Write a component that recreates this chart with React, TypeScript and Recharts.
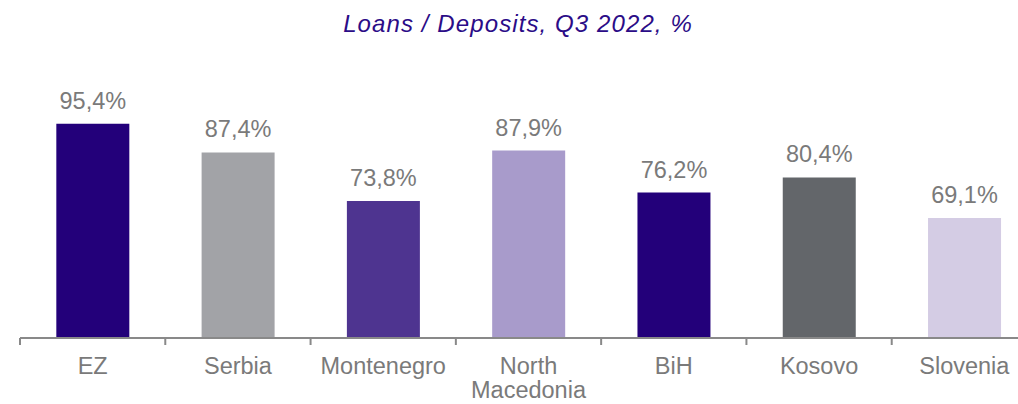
import { BarChart, Bar, XAxis, YAxis, Cell, LabelList } from "recharts";

const CATEGORIES = ["EZ", "Serbia", "Montenegro", "North Macedonia", "BiH", "Kosovo", "Slovenia"];
const VALUES = [95.4, 87.4, 73.8, 87.9, 76.2, 80.4, 69.1];
const BAR_COLORS = ["#23007a", "#a2a3a7", "#4e3490", "#a89bcb", "#23007a", "#63666a", "#d4cce4"];

const FONT = '"Liberation Sans", Arial, sans-serif';
const TEXT_GRAY = "#7a7a7a";
const AXIS_GRAY = "#898989";

const data = CATEGORIES.map((name, i) => ({ name, value: VALUES[i] }));

const fmt = (v: number) => v.toFixed(1).replace(".", ",") + "%";

function CategoryTick(props: any) {
  const { x, y, payload } = props;
  const half = payload?.offset || 72.6;
  const lines = String(payload.value).split(" ");
  return (
    <g>
      <line x1={x - half} y1={y} x2={x - half} y2={y + 7} stroke={AXIS_GRAY} strokeWidth={2} />
      <text x={x} y={y + 36} textAnchor="middle" fill={TEXT_GRAY} fontSize={23.5} fontFamily={FONT}>
        {lines.map((l, i) => (
          <tspan key={i} x={x} dy={i === 0 ? 0 : 24}>
            {l}
          </tspan>
        ))}
      </text>
    </g>
  );
}

export default function App() {
  return (
    <div style={{ position: "absolute", left: 0, top: 0, width: 1018, height: 404, overflow: "hidden", background: "#fff" }}>
      <div
        style={{
          position: "absolute",
          left: 0,
          top: 12,
          width: 1036,
          textAlign: "center",
          fontFamily: FONT,
          fontStyle: "italic",
          fontSize: 24,
          lineHeight: "24px",
          letterSpacing: 1.1,
          color: "#2b0c87",
          whiteSpace: "nowrap",
        }}
      >
        Loans / Deposits, Q3 2022, %
      </div>
      <BarChart
        width={1040}
        height={404}
        data={data}
        margin={{ top: 80, right: 3, bottom: 0, left: 20 }}
        barCategoryGap="25%"
      >
        <YAxis hide domain={[35.6, 107.6]} />
        <XAxis
          dataKey="name"
          height={66}
          interval={0}
          tickLine={false}
          tickSize={0}
          tickMargin={0}
          axisLine={{ stroke: AXIS_GRAY, strokeWidth: 2 }}
          tick={<CategoryTick />}
        />
        <Bar dataKey="value" isAnimationActive={false}>
          {data.map((_, i) => (
            <Cell key={i} fill={BAR_COLORS[i]} />
          ))}
          <LabelList
            dataKey="value"
            position="top"
            offset={15}
            formatter={(v: any) => fmt(Number(v))}
            fill={TEXT_GRAY}
            fontSize={23.5}
            fontFamily={FONT}
          />
        </Bar>
      </BarChart>
    </div>
  );
}
